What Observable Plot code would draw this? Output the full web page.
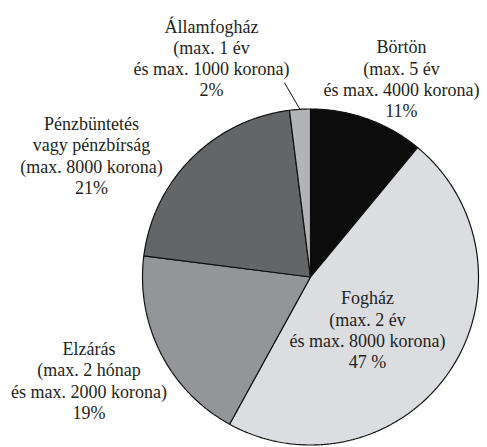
<!DOCTYPE html>
<html>
<head>
<meta charset="utf-8">
<script src="https://cdn.jsdelivr.net/npm/d3@7"></script>
<script src="https://cdn.jsdelivr.net/npm/@observablehq/plot@0.6"></script>
<style>
  html, body { margin: 0; padding: 0; background: #fff; }
  #chart svg { display: block; }
</style>
</head>
<body>
<div id="chart"></div>
<script>
// ---- data ----
const categories = ["Börtön", "Fogház", "Elzárás", "Pénzbüntetés vagy pénzbírság", "Államfogház"];
const shares = [11, 47, 19, 21, 2];
const labelLines = [
  ["Börtön", "(max. 5 év", "és max. 4000 korona)", "11%"],
  ["Fogház", "(max. 2 év", "és max. 8000 korona)", "47 %"],
  ["Elzárás", "(max. 2 hónap", "és max. 2000 korona)", "19%"],
  ["Pénzbüntetés", "vagy pénzbírság", "(max. 8000 korona)", "21%"],
  ["Államfogház", "(max. 1 év", "és max. 1000 korona)", "2%"]
];

// ---- layout / style ----
const W = 487, H = 447;
const CX = 310, CY = 276.5, R = 168;           // pie centre and radius in px
const sliceColors = ["#0c0c0c", "#dcdde0", "#939598", "#646567", "#b1b3b6"];
// label placement in polar terms (degrees clockwise from 12 o'clock, radius multiple)
const labelPolar = [[24.6, 1.30], [132.6, 0.461], [245.0, 1.455], [299.1, 1.492], [335.7, 1.432]];
const leaderOuter = [352.4, 1.165];             // outer end of the Államfogház leader line

const rad = d => d * Math.PI / 180;
const polar = (a, k) => ({x: k * Math.sin(a), y: k * Math.cos(a)});

const arcs = d3.pie().sort(null).value(d => d)(shares);

const marks = [];
arcs.forEach((a, i) => {
  const n = Math.max(2, Math.ceil((a.endAngle - a.startAngle) / rad(0.5)));
  const pts = [{x: 0, y: 0}];
  for (let j = 0; j <= n; j++) {
    pts.push(polar(a.startAngle + (a.endAngle - a.startAngle) * j / n, 1));
  }
  pts.push({x: 0, y: 0});
  marks.push(Plot.line(pts, {x: "x", y: "y", fill: sliceColors[i], stroke: "#111", strokeWidth: 1.2, strokeLinejoin: "miter"}));
});

// leader line for the small slice
const last = arcs[arcs.length - 1];
const leader = [polar((last.startAngle + last.endAngle) / 2, 1.0), polar(rad(leaderOuter[0]), leaderOuter[1])];
marks.push(Plot.line(leader, {x: "x", y: "y", stroke: "#111", strokeWidth: 1}));

const labels = categories.map((c, i) => ({
  ...polar(rad(labelPolar[i][0]), labelPolar[i][1]),
  text: labelLines[i].join("\n")
}));
marks.push(Plot.text(labels, {
  x: "x", y: "y", text: "text",
  fontFamily: "Liberation Serif", fontSize: 18, lineHeight: 1.18,
  lineAnchor: "middle", textAnchor: "middle", fill: "#231f20"
}));

const chart = Plot.plot({
  width: W, height: H,
  margin: 0,
  x: {domain: [-CX / R, (W - CX) / R], axis: null},
  y: {domain: [-(H - CY) / R, CY / R], axis: null},
  marks
});
document.getElementById("chart").appendChild(chart);
</script>
</body>
</html>
